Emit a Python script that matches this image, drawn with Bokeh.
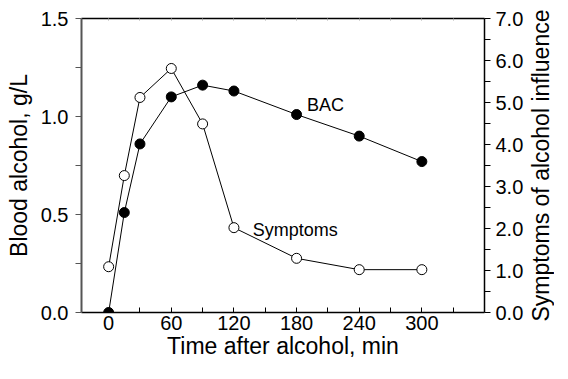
import math
from bokeh.plotting import figure
from bokeh.layouts import row
from bokeh.models import Range1d, LinearAxis, FixedTicker, Label, ColumnDataSource, NumeralTickFormatter
from bokeh.embed import file_html
from bokeh.resources import INLINE

# ---- data ----
time_min = [0, 15, 30, 60, 90, 120, 180, 240, 300]
bac = [0.0, 0.51, 0.86, 1.10, 1.16, 1.13, 1.01, 0.90, 0.77]
symptoms = [1.09, 3.26, 5.12, 5.81, 4.49, 2.02, 1.29, 1.02, 1.02]

x_ticks = [0, 60, 120, 180, 240, 300]
x_minor = [30, 90, 150, 210, 270, 330]
y_left_ticks = [0.0, 0.5, 1.0, 1.5]
y_left_minor = [0.25, 0.75, 1.25]
y_right_ticks = [0, 1, 2, 3, 4, 5, 6, 7]
y_right_minor = [0.5, 1.5, 2.5, 3.5, 4.5, 5.5, 6.5]

FONT = "Liberation Sans"
BL, BT, FW, FH, BR, BB = 81, 18, 403, 294, 40, 51
H = BT + FH + BB
W2 = 552 - (BL + FW + BR)

p = figure(frame_width=FW, frame_height=FH, output_backend="svg", toolbar_location=None,
           x_range=Range1d(-26, 360), y_range=Range1d(0, 1.5),
           min_border_left=BL, min_border_right=BR, min_border_top=BT, min_border_bottom=BB,
           x_axis_label="Time after alcohol, min", y_axis_label="Blood alcohol, g/L")
p.extra_y_ranges = {"sym": Range1d(0, 7)}
p.grid.visible = False
p.outline_line_color = None
p.background_fill_color = "white"
p.border_fill_color = "white"

src = ColumnDataSource(dict(t=time_min, bac=bac, sym=symptoms))

p.line("t", "bac", source=src, line_color="black", line_width=1)
p.line("t", "sym", source=src, line_color="black", line_width=1, y_range_name="sym")
p.scatter("t", "bac", source=src, size=10, fill_color="black", line_color="black")
p.scatter("t", "sym", source=src, size=10, fill_color="white", line_color="black",
          line_width=1, y_range_name="sym")

xa = p.xaxis[0]
xa.ticker = FixedTicker(ticks=x_ticks, minor_ticks=x_minor)
xa.major_tick_in = 5
xa.major_tick_out = 0
xa.minor_tick_in = 5
xa.minor_tick_out = 0
xa.axis_line_color = "black"
xa.axis_line_width = 1.5
xa.major_label_text_font = FONT
xa.major_label_text_font_size = "20px"
xa.major_label_text_color = "black"
xa.major_label_standoff = 3
xa.axis_label_text_font = FONT
xa.axis_label_text_font_size = "23px"
xa.axis_label_text_font_style = "normal"
xa.axis_label_text_color = "black"
xa.axis_label_standoff = 0

ya = p.yaxis[0]
ya.ticker = FixedTicker(ticks=y_left_ticks, minor_ticks=y_left_minor)
ya.formatter = NumeralTickFormatter(format="0.0")
ya.major_tick_in = 0
ya.major_tick_out = 6
ya.minor_tick_in = 0
ya.minor_tick_out = 6
ya.axis_line_color = "#555555"
ya.axis_line_width = 2
ya.major_tick_line_color = "#555555"
ya.minor_tick_line_color = "#555555"
ya.major_label_text_font = FONT
ya.major_label_text_font_size = "20px"
ya.major_label_text_color = "black"
ya.major_label_standoff = 7
ya.axis_label_text_font = FONT
ya.axis_label_text_font_size = "23px"
ya.axis_label_text_font_style = "normal"
ya.axis_label_text_color = "black"
ya.axis_label_standoff = 6

ra = LinearAxis(y_range_name="sym",
                ticker=FixedTicker(ticks=y_right_ticks, minor_ticks=y_right_minor),
                formatter=NumeralTickFormatter(format="0.0"))
ra.major_tick_in = 0
ra.major_tick_out = 6
ra.minor_tick_in = 0
ra.minor_tick_out = 6
ra.axis_line_color = "black"
ra.axis_line_width = 1.5
ra.major_label_text_font = FONT
ra.major_label_text_font_size = "20px"
ra.major_label_text_color = "black"
ra.major_label_standoff = 5
p.add_layout(ra, "right")

ta = LinearAxis(ticker=FixedTicker(ticks=x_ticks + x_minor, minor_ticks=[]))
ta.major_label_text_font_size = "0px"
ta.major_label_text_color = None
ta.major_tick_in = 2
ta.major_tick_out = 0
ta.minor_tick_line_color = None
ta.major_tick_line_color = "#aaaaaa"
ta.axis_line_color = "black"
ta.axis_line_width = 1.5
ta.major_label_standoff = 0
p.add_layout(ta, "above")

p.add_layout(Label(x=190, y=1.06, text="BAC", text_font=FONT, text_font_size="18px",
                   text_color="black", text_baseline="alphabetic"))
p.add_layout(Label(x=138, y=0.421, text="Symptoms", text_font=FONT, text_font_size="18px",
                   text_color="black", text_baseline="alphabetic"))

# narrow companion figure holding the right-hand axis title (reads bottom-to-top)
p2 = figure(frame_width=W2, frame_height=H, output_backend="svg", toolbar_location=None,
            x_range=Range1d(0, W2), y_range=Range1d(0, H), min_border=0)
p2.axis.visible = False
p2.grid.visible = False
p2.outline_line_color = None
p2.background_fill_color = "white"
p2.border_fill_color = "white"
p2.add_layout(Label(x=W2 / 2, y=H - (BT + FH / 2), text="Symptoms of alcohol influence",
                    text_font=FONT, text_font_size="23px", text_color="black",
                    angle=math.pi / 2, text_align="center", text_baseline="middle"))
for fig in (p, p2):
    try:
        fig.frame_align = False
    except Exception:
        pass

open("out.html", "w").write(file_html(row(p, p2), INLINE))
